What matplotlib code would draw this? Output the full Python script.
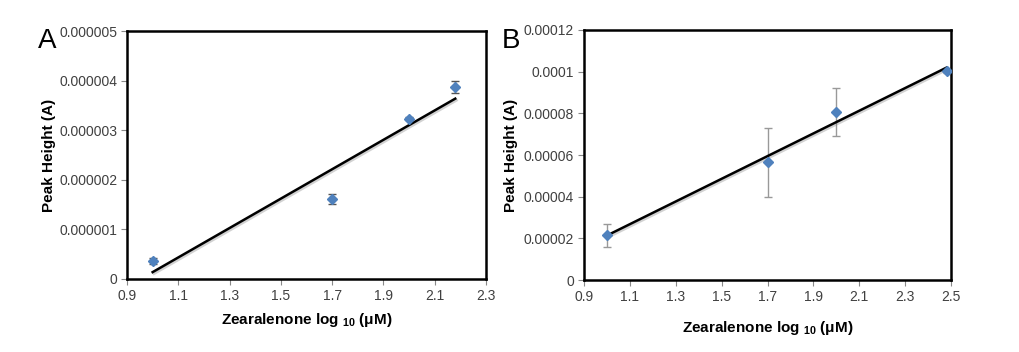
import numpy as np
import matplotlib
matplotlib.use("Agg")
import matplotlib.pyplot as plt
import matplotlib.patheffects as pe
from matplotlib.ticker import FixedLocator

plt.rcParams['font.family'] = ['Liberation Sans', 'DejaVu Sans']
plt.rcParams['mathtext.fontset'] = 'custom'
plt.rcParams['mathtext.rm'] = 'Liberation Sans'
plt.rcParams['mathtext.bf'] = 'Liberation Sans:bold'

# panel A data
x_a = [1.0, 1.7, 2.0, 2.18]
y_a = [0.36e-6, 1.62e-6, 3.23e-6, 3.88e-6]
err_a = [0.06e-6, 0.10e-6, 0.03e-6, 0.12e-6]
yticks_a = [0, 0.000001, 0.000002, 0.000003, 0.000004, 0.000005]
ylabels_a = ['0', '0.000001', '0.000002', '0.000003', '0.000004', '0.000005']
xticks_a = [0.9, 1.1, 1.3, 1.5, 1.7, 1.9, 2.1, 2.3]

# panel B data
x_b = [1.0, 1.7, 2.0, 2.48]
y_b = [21.4e-6, 56.5e-6, 80.5e-6, 100.2e-6]
err_b = [5.7e-6, 16.7e-6, 11.5e-6, 0.8e-6]
yticks_b = [0, 0.00002, 0.00004, 0.00006, 0.00008, 0.0001, 0.00012]
ylabels_b = ['0', '0.00002', '0.00004', '0.00006', '0.00008', '0.0001', '0.00012']
xticks_b = [0.9, 1.1, 1.3, 1.5, 1.7, 1.9, 2.1, 2.3, 2.5]

blue = '#4F81BD'
tick_col = '#404040'


def draw_panel(ax, x, y, err, ecol, xticks, yticks, ylabels, xlim, ylim, xlab_pad, ylab_pad):
    ax.errorbar(x, y, yerr=err, fmt='none', ecolor=ecol, elinewidth=1.0,
                capsize=3, capthick=1.0, zorder=2)
    slope, icpt = np.polyfit(x, y, 1)
    xf = np.array([min(x), max(x)])
    ax.plot(xf, slope * xf + icpt, color='black', lw=1.8, zorder=3,
            path_effects=[pe.SimpleLineShadow(offset=(1, -1.2), shadow_color='gray', alpha=0.35),
                          pe.Normal()])
    ax.plot(x, y, linestyle='none', marker='D', markersize=5.5, color=blue, zorder=4)
    ax.set_xlim(*xlim)
    ax.set_ylim(*ylim)
    ax.xaxis.set_major_locator(FixedLocator(xticks))
    ax.set_xticklabels([f'{t:.1f}' for t in xticks])
    ax.set_yticks(yticks)
    ax.set_yticklabels(ylabels)
    for s in ax.spines.values():
        s.set_linewidth(1.8)
        s.set_color('black')
    ax.tick_params(axis='both', direction='out', length=4, width=0.8, color='#888888',
                   labelsize=10, labelcolor=tick_col, pad=3)
    ax.set_ylabel('Peak Height (A)', fontsize=11, fontweight='bold', labelpad=ylab_pad)
    ax.set_xlabel(r'Zearalenone log $_{\mathbf{10}}$ (μM)', fontsize=11,
                  fontweight='bold', labelpad=xlab_pad)


fig = plt.figure(figsize=(10.2, 3.52), dpi=100)
ax_a = fig.add_axes([0.1245, 0.2074, 0.352, 0.7045])
ax_b = fig.add_axes([0.5725, 0.2045, 0.36, 0.7103])

draw_panel(ax_a, x_a, y_a, err_a, '#555555', xticks_a, yticks_a, ylabels_a,
           (0.9, 2.3), (0, 0.000005), 6, 2)
draw_panel(ax_b, x_b, y_b, err_b, '#999999', xticks_b, yticks_b, ylabels_b,
           (0.9, 2.5), (0, 0.00012), 11, 4)

fig.text(0.037, 0.865, 'A', fontsize=20)
fig.text(0.492, 0.865, 'B', fontsize=20)

fig.savefig('out.png', dpi=100)
